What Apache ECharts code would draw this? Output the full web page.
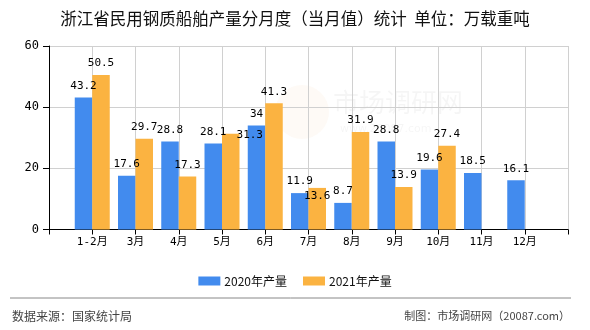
<!DOCTYPE html>
<html>
<head>
<meta charset="utf-8">
<style>
  html, body { margin: 0; padding: 0; background: #fff; }
  #chart { width: 590px; height: 330px; }
</style>
<script src="https://cdn.jsdelivr.net/npm/echarts@6/dist/echarts.min.js"></script>
</head>
<body>
<div id="chart"></div>
<script>
// Monthly output of civil steel ships in Zhejiang (10k DWT)
const months = ['1-2月', '3月', '4月', '5月', '6月', '7月', '8月', '9月', '10月', '11月', '12月'];
const output2020 = [43.2, 17.6, 28.8, 28.1, 34, 11.9, 8.7, 28.8, 19.6, 18.5, 16.1];
const output2021 = [50.5, 29.7, 17.3, 31.3, 41.3, 13.6, 31.9, 13.9, 27.4, null, null];
const seriesNames = ['2020年产量', '2021年产量'];
const yTicks = { min: 0, max: 60, step: 20 };

// The axis runs from an empty slot to an empty slot so that months sit on grid lines
const categories = [''].concat(months, ['']);
const pad = arr => [null].concat(arr, [null]);

const numFont = "'DejaVu Sans Mono', 'Noto Sans CJK SC', monospace";
const cjkFont = "'Noto Sans CJK SC', sans-serif";

// Label nudges for crowded bars (series index -> month index -> offset)
const labelNudge = { 1: { 3: [19, 13], 5: [0, 20] } };

function buildData(values, sIdx) {
  return pad(values).map((v, i) => {
    const m = i - 1;
    const nudge = labelNudge[sIdx] && labelNudge[sIdx][m];
    if (v != null && nudge) {
      return { value: v, label: { offset: nudge } };
    }
    return v;
  });
}

const colors = ['#428bee', '#fbb341'];

const chart = echarts.init(document.getElementById('chart'), null, { renderer: 'canvas' });
chart.setOption({
  animation: false,
  backgroundColor: '#fff',
  title: {
    text: '浙江省民用钢质船舶产量分月度（当月值）统计  单位：万载重吨',
    left: 'center',
    top: 5,
    textStyle: { fontFamily: cjkFont, fontSize: 16.5, fontWeight: 'normal', color: '#111' }
  },
  legend: {
    top: 270,
    left: 'center',
    itemWidth: 22,
    itemHeight: 9,
    itemGap: 16,
    icon: 'rect',
    textStyle: { fontFamily: cjkFont, fontSize: 12, color: '#111', padding: [0, 0, 0, -1] },
    data: seriesNames
  },
  grid: { left: 49, right: 22, top: 46, bottom: 100.5, containLabel: false },
  xAxis: {
    type: 'category',
    data: categories,
    boundaryGap: false,
    axisLine: { lineStyle: { color: '#000', width: 1 } },
    axisTick: { show: true, interval: 0, length: 5, lineStyle: { color: '#000' } },
    axisLabel: { interval: 0, margin: 7, color: '#000', fontSize: 11, fontFamily: numFont },
    splitLine: { show: true, interval: 0, lineStyle: { color: '#d0d0d0', width: 1 } }
  },
  yAxis: {
    type: 'value',
    min: yTicks.min,
    max: yTicks.max,
    interval: yTicks.step,
    axisLine: { show: true, lineStyle: { color: '#000', width: 1 } },
    axisTick: { show: true, length: 6, lineStyle: { color: '#000' } },
    axisLabel: { margin: 10, color: '#000', fontSize: 12, fontFamily: numFont },
    splitLine: { show: true, lineStyle: { color: '#d0d0d0', width: 1 } }
  },
  graphic: [
    // faint site watermark
    { type: 'circle', shape: { cx: 302, cy: 112, r: 27 }, style: { fill: 'rgba(245,200,150,0.09)' }, z: 0 },
    { type: 'text', x: 333, y: 102, style: { text: '市场调研网', font: "26px 'Noto Sans CJK SC'", fill: 'rgba(0,0,0,0.04)', verticalAlign: 'middle' }, z: 0 },
    { type: 'text', x: 340, y: 129, style: { text: 'www.20087.com', font: "11px 'DejaVu Sans'", fill: 'rgba(0,0,0,0.04)', verticalAlign: 'middle' }, z: 0 },
    // footer
    { type: 'line', shape: { x1: 10, y1: 298, x2: 571, y2: 298 }, style: { stroke: '#888', lineWidth: 1 } },
    { type: 'text', x: 12, y: 316, style: { text: '数据来源：国家统计局', font: "12px 'Noto Sans CJK SC'", fill: '#444', verticalAlign: 'middle' } },
    { type: 'text', x: 570, y: 316, style: { text: '制图：市场调研网（20087.com）', font: "11px 'Noto Sans CJK SC'", fill: '#444', align: 'right', verticalAlign: 'middle' } }
  ],
  series: [output2020, output2021].map((vals, sIdx) => ({
    name: seriesNames[sIdx],
    type: 'bar',
    data: buildData(vals, sIdx),
    barWidth: 17.5,
    barGap: '0%',
    itemStyle: { color: colors[sIdx] },
    label: {
      show: true,
      position: 'top',
      distance: 6,
      color: '#000',
      fontSize: 11,
      fontFamily: numFont
    }
  }))
});
</script>
</body>
</html>
